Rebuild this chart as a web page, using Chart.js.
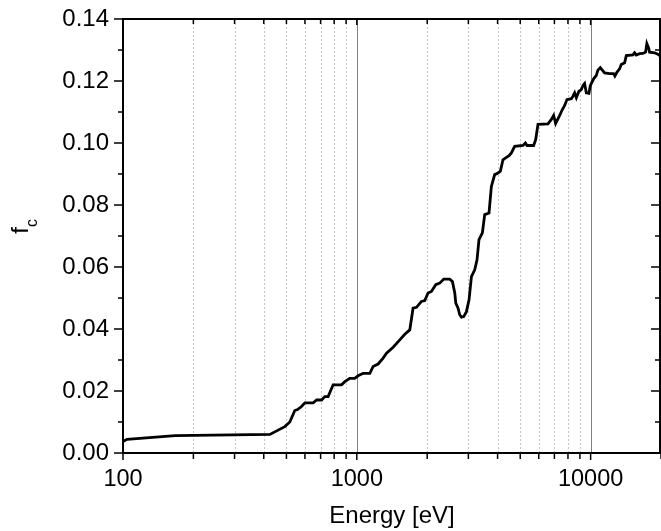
<!DOCTYPE html>
<html lang="en">
<head>
  <meta charset="UTF-8" />
  <title>f_c vs Energy</title>
  <style>
    html, body { margin: 0; padding: 0; background: #fff; }
    .chart-box { position: relative; width: 661px; height: 531px; }
  </style>
</head>
<body>
  <div class="chart-box">
    <canvas id="fcChart"></canvas>
  </div>

  <script src="https://cdn.jsdelivr.net/npm/chart.js"></script>
  <script>
    // --- data ---
    const energy = [100, 104, 167, 425, 492, 517, 543, 558, 580, 600, 651, 673, 707, 730, 754, 792, 860, 889, 933, 980,
      1013, 1064, 1137, 1174, 1233, 1296, 1340, 1430, 1527, 1604, 1685, 1740, 1800, 1890, 1953, 2017, 2085, 2176, 2263, 2355,
      2496, 2564, 2624, 2650, 2710, 2755, 2802, 2866, 2943, 3020, 3092, 3194, 3267, 3331, 3444, 3524, 3676, 3763, 3888, 4018,
      4112, 4218, 4334, 4477, 4583, 4733, 5136, 5260, 5345, 5706, 5821, 5955, 6570, 6793, 6948, 7087, 7320, 7570, 7745, 7920,
      8270, 8404, 8544, 8690, 8913, 9123, 9270, 9424, 9585, 9834, 9970, 10300, 10578, 10745, 11000, 11220, 11478, 12054, 12540, 12700,
      12950, 13300, 13525, 13975, 14210, 15165, 15420, 15680, 16200, 16735, 17180, 17400, 17700, 17870, 18770, 19400, 20000];
    const fc = [0.0037, 0.0044, 0.0056, 0.0060, 0.0085, 0.0100, 0.0137, 0.0140, 0.0150, 0.0162, 0.0162, 0.0171, 0.0171, 0.0182, 0.0182, 0.0220, 0.0220, 0.0230, 0.0241, 0.0241,
      0.0249, 0.0257, 0.0257, 0.0279, 0.0287, 0.0306, 0.0322, 0.0341, 0.0365, 0.0383, 0.0397, 0.0467, 0.0470, 0.0489, 0.0492, 0.0516, 0.0521, 0.0543, 0.0548, 0.0561,
      0.0561, 0.0553, 0.0516, 0.0484, 0.0467, 0.0446, 0.0438, 0.0440, 0.0456, 0.0494, 0.0569, 0.0591, 0.0623, 0.0688, 0.0710, 0.0769, 0.0774, 0.0860, 0.0898, 0.0903,
      0.0909, 0.0946, 0.0952, 0.0959, 0.0968, 0.0989, 0.0992, 0.1000, 0.0992, 0.0992, 0.1011, 0.1060, 0.1062, 0.1076, 0.1089, 0.1063, 0.1084, 0.1108, 0.1121, 0.1140,
      0.1143, 0.1151, 0.1162, 0.1146, 0.1167, 0.1172, 0.1185, 0.1192, 0.1162, 0.1160, 0.1185, 0.1207, 0.1218, 0.1235, 0.1243, 0.1235, 0.1226, 0.1224, 0.1224, 0.1216,
      0.1228, 0.1239, 0.1253, 0.1259, 0.1282, 0.1284, 0.1291, 0.1284, 0.1288, 0.1289, 0.1293, 0.1321, 0.1307, 0.1293, 0.1291, 0.1286, 0.1280];

    // ticks / grid
    const xTicks = [100, 200, 300, 400, 500, 600, 700, 800, 900, 1000, 2000, 3000, 4000, 5000, 6000, 7000, 8000, 9000, 10000, 20000];
    const xLabels = [100, 1000, 10000];
    const xMinorGrid = [200, 300, 400, 500, 600, 700, 800, 900, 2000, 3000, 4000, 5000, 6000, 7000, 8000, 9000];
    const xMajorGrid = [1000, 10000];
    const yTicks = [0, 0.01, 0.02, 0.03, 0.04, 0.05, 0.06, 0.07, 0.08, 0.09, 0.10, 0.11, 0.12, 0.13, 0.14];
    const yLabels = [0, 0.02, 0.04, 0.06, 0.08, 0.10, 0.12, 0.14];

    const FONT = "'Liberation Sans', Arial, sans-serif";
    const isLabel = (list, v) => list.some(l => Math.abs(l - v) < 1e-9);

    // grid lines, frame, tick marks and the f_c title
    const framePlugin = {
      id: 'frame',
      beforeDatasetsDraw(chart) {
        const { ctx, chartArea: a, scales: { x } } = chart;
        ctx.save();
        ctx.lineWidth = 1;
        ctx.strokeStyle = '#c4c4c4';
        ctx.setLineDash([2, 2]);
        xMinorGrid.forEach(v => {
          const px = Math.round(x.getPixelForValue(v)) + 0.5;
          ctx.beginPath(); ctx.moveTo(px, a.top); ctx.lineTo(px, a.bottom); ctx.stroke();
        });
        ctx.setLineDash([]);
        ctx.strokeStyle = '#808080';
        xMajorGrid.forEach(v => {
          const px = Math.round(x.getPixelForValue(v)) + 0.5;
          ctx.beginPath(); ctx.moveTo(px, a.top); ctx.lineTo(px, a.bottom); ctx.stroke();
        });
        ctx.restore();
      },
      afterDraw(chart) {
        const { ctx, chartArea: a, scales: { x, y } } = chart;
        ctx.save();
        ctx.strokeStyle = '#000';
        ctx.lineWidth = 2;
        ctx.strokeRect(a.left, a.top, a.right - a.left - 1, a.bottom - a.top);

        ctx.lineWidth = 1.5;
        xTicks.forEach(v => {
          const px = x.getPixelForValue(v);
          const len = isLabel(xLabels, v) ? 7 : 6;
          ctx.beginPath(); ctx.moveTo(px, a.bottom); ctx.lineTo(px, a.bottom + len); ctx.stroke();
          ctx.beginPath(); ctx.moveTo(px, a.top); ctx.lineTo(px, a.top + len - 1); ctx.stroke();
        });
        yTicks.forEach(v => {
          const py = y.getPixelForValue(v);
          const len = isLabel(yLabels, v) ? 9 : 5;
          ctx.beginPath(); ctx.moveTo(a.left - len, py); ctx.lineTo(a.left, py); ctx.stroke();
          ctx.beginPath(); ctx.moveTo(a.right - 1, py); ctx.lineTo(a.right - 1 - len, py); ctx.stroke();
        });

        // y title: f with subscript c
        ctx.translate(22, 227);
        ctx.rotate(-Math.PI / 2);
        ctx.fillStyle = '#000';
        ctx.textBaseline = 'alphabetic';
        ctx.font = '24px ' + FONT;
        ctx.textAlign = 'left';
        const fw = ctx.measureText('f').width;
        ctx.fillText('f', -fw, 6);
        ctx.font = '16px ' + FONT;
        ctx.fillText('c', 0, 15);
        ctx.restore();
      }
    };

    new Chart(document.getElementById('fcChart'), {
      type: 'line',
      data: {
        datasets: [{
          data: energy.map((e, i) => ({ x: e, y: fc[i] })),
          borderColor: '#000',
          borderWidth: 2.8,
          pointRadius: 0,
          tension: 0,
          fill: false
        }]
      },
      options: {
        responsive: true,
        maintainAspectRatio: false,
        animation: false,
        layout: { padding: { top: 19, right: 0, left: 0, bottom: 0 } },
        plugins: { legend: { display: false }, tooltip: { enabled: false } },
        scales: {
          x: {
            type: 'logarithmic',
            min: 100,
            max: 20000,
            grid: { display: false, drawTicks: false },
            border: { display: false },
            afterBuildTicks: scale => { scale.ticks = xTicks.map(v => ({ value: v })); },
            afterFit: scale => {
              scale.height = 78;
              scale.paddingLeft = 0;
              scale.paddingRight = 0;
            },
            ticks: {
              autoSkip: false,
              maxRotation: 0,
              padding: 12,
              color: '#000',
              font: { family: FONT, size: 23.5 },
              callback: v => isLabel(xLabels, v) ? String(v) : ''
            },
            title: {
              display: true,
              text: 'Energy [eV]',
              color: '#000',
              font: { family: FONT, size: 24 },
              padding: { top: 10, bottom: 0 }
            }
          },
          y: {
            min: 0,
            max: 0.14,
            grid: { display: false, drawTicks: false },
            border: { display: false },
            afterBuildTicks: scale => { scale.ticks = yLabels.map(v => ({ value: v })); },
            afterFit: scale => {
              scale.width = 123;
              scale.paddingTop = 0;
              scale.paddingBottom = 0;
            },
            ticks: {
              padding: 14,
              color: '#000',
              font: { family: FONT, size: 24 },
              callback: v => v.toFixed(2)
            }
          }
        }
      },
      plugins: [framePlugin]
    });
  </script>
</body>
</html>
